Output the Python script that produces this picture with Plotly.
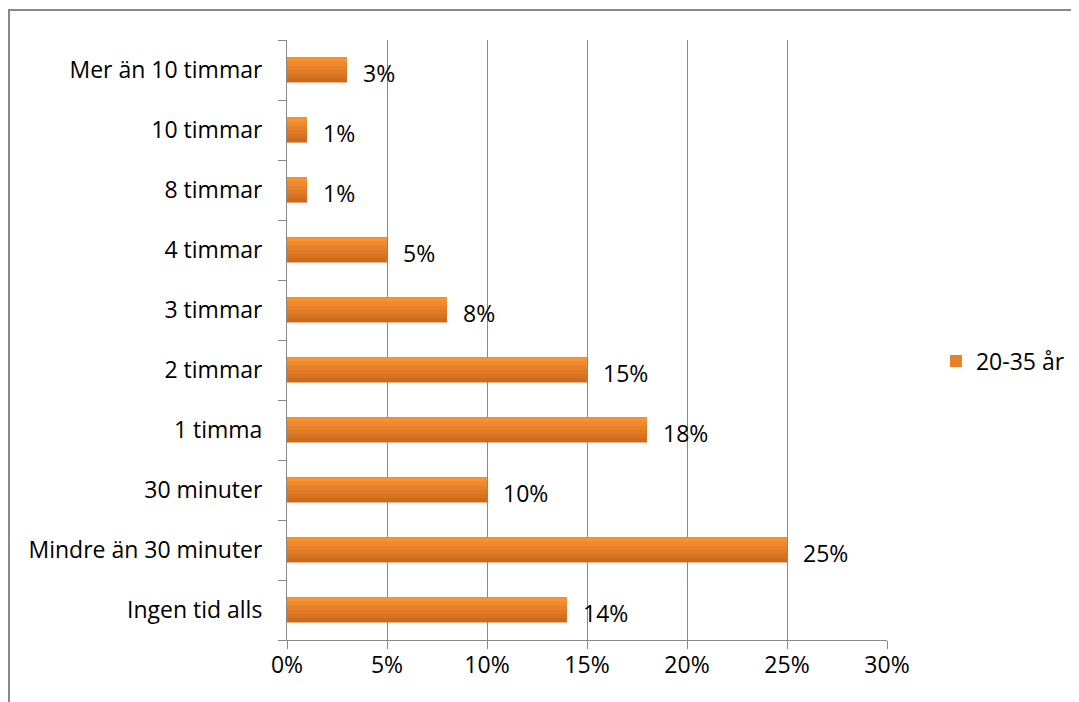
import plotly.graph_objects as go

categories = ["Ingen tid alls", "Mindre än 30 minuter", "30 minuter", "1 timma",
              "2 timmar", "3 timmar", "4 timmar", "8 timmar", "10 timmar",
              "Mer än 10 timmar"]
values = [14, 25, 10, 18, 15, 8, 5, 1, 1, 3]
series_name = "20-35 år"
x_ticks = [0, 5, 10, 15, 20, 25, 30]
x_tick_text = ["0%", "5%", "10%", "15%", "20%", "25%", "30%"]

FONT = "Open Sans"
FS = 23
GRID = "#888888"

fig = go.Figure()

# gradient-like bar: stacked overlapping layers, dark full bar at back,
# progressively lighter and narrower (anchored at top) layers on front
layer_colors = ["#CC6A1D", "#D67221", "#DF7A26", "#E8822A", "#F08A2F", "#F89233"]
bar_w = 0.42
n = len(layer_colors)
sw = bar_w / n
for k, c in enumerate(layer_colors):
    w = (n - k) * sw
    fig.add_trace(go.Bar(
        y=categories, x=values, orientation="h",
        width=w, offset=bar_w / 2 - w,
        marker=dict(color=c, line=dict(width=0)),
        name=series_name, showlegend=(k == 3),
        hoverinfo="skip" if k != 3 else None,
    ))

for cat, v in zip(categories, values):
    fig.add_annotation(x=v, y=cat, text=f"{v}%", showarrow=False,
                       xanchor="left", xshift=14, yshift=-3,
                       font=dict(family=FONT, size=FS, color="#000000"))

fig.update_layout(
    width=1079, height=702,
    margin=dict(l=279, r=200, t=32, b=70, autoexpand=False),
    paper_bgcolor="white", plot_bgcolor="white",
    barmode="overlay",
    font=dict(family=FONT, size=FS, color="#000000"),
    legend=dict(xref="container", yref="container",
                x=0.860, y=0.497, xanchor="left", yanchor="middle",
                font=dict(family=FONT, size=FS), itemwidth=30,
                bgcolor="rgba(0,0,0,0)"),
    xaxis=dict(range=[0, 30], tickvals=x_ticks, ticktext=x_tick_text,
               showgrid=True, gridcolor=GRID, gridwidth=1,
               showline=True, linecolor=GRID, linewidth=1,
               ticks="outside", ticklen=8, tickcolor=GRID,
               ticklabelstandoff=-4,
               zeroline=False, fixedrange=True),
    yaxis=dict(categoryorder="array", categoryarray=categories,
               showgrid=False, showline=True, linecolor=GRID, linewidth=1,
               ticks="outside", ticklen=8, tickcolor=GRID,
               tickson="boundaries", ticklabelstandoff=19,
               zeroline=False, fixedrange=True),
    shapes=[dict(type="path", xref="paper", yref="paper",
                 path="M -0.4633 -0.2 L -0.4633 1.05 L 1.4 1.05",
                 line=dict(color="#888888", width=2))],
)

fig.write_html("out.html")
